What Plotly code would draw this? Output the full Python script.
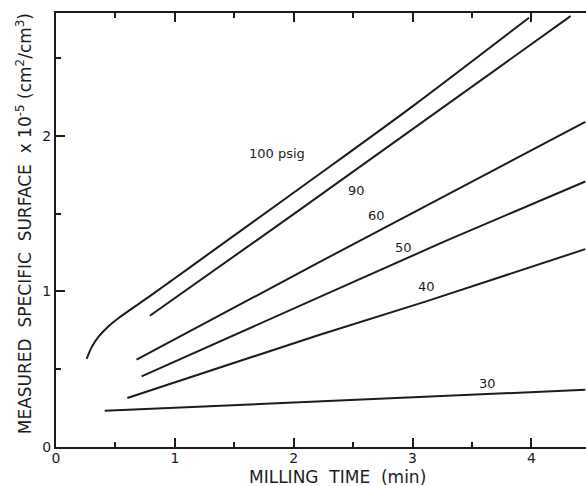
import plotly.graph_objects as go

# Milling time (min) and measured specific surface (x1e-5 cm^2/cm^3) per pressure curve
x_100 = [0.258, 0.30, 0.36, 0.44, 0.53, 0.62, 0.70, 0.79, 0.90, 1.0, 1.2, 1.6, 2.2, 3.0, 3.98]
y_100 = [0.566, 0.642, 0.711, 0.775, 0.831, 0.880, 0.922, 0.970, 1.030, 1.085, 1.195, 1.415, 1.745, 2.19, 2.76]
x_90 = [0.79, 2.05, 4.33]
y_90 = [0.844, 1.524, 2.77]
x_60 = [0.678, 2.22, 4.454]
y_60 = [0.561, 1.19, 2.09]
x_50 = [0.72, 2.05, 2.22, 3.28, 4.454]
y_50 = [0.454, 0.91, 0.965, 1.325, 1.707]
x_40 = [0.60, 2.05, 2.22, 3.115, 4.454]
y_40 = [0.315, 0.679, 0.722, 0.936, 1.272]
x_30 = [0.41, 2.05, 2.22, 4.454]
y_30 = [0.233, 0.287, 0.293, 0.368]

curve_labels = ["100 psig", "90", "60", "50", "40", "30"]
label_x = [1.86, 2.53, 2.70, 2.92, 3.12, 3.63]
label_y = [1.89, 1.65, 1.49, 1.28, 1.03, 0.41]

x_ticks = [0, 1, 2, 3, 4]
x_minor = [0.5, 1.5, 2.5, 3.5]
y_ticks = [0, 1, 2]
y_minor = [0.5, 1.5, 2.5]

INK = "#1c1c1c"
FONT = "DejaVu Sans"

fig = go.Figure()
series = [(x_100, y_100), (x_90, y_90), (x_60, y_60), (x_50, y_50), (x_40, y_40), (x_30, y_30)]
for i, (xs, ys) in enumerate(series):
    shape = dict(shape="spline", smoothing=0.8) if i == 0 else dict(shape="linear")
    fig.add_trace(go.Scatter(x=xs, y=ys, mode="lines",
                             line=dict(color=INK, width=2, **shape),
                             showlegend=False, hoverinfo="skip"))

for t, lx, ly in zip(curve_labels, label_x, label_y):
    fig.add_annotation(x=lx, y=ly, text=t, showarrow=False,
                       font=dict(family=FONT, size=13, color=INK))

fig.add_annotation(xref="paper", yref="paper", x=0.531, y=-0.068,
                   xanchor="center", yanchor="middle",
                   text="MILLING  TIME  (min)", showarrow=False,
                   font=dict(family=FONT, size=17, color=INK))
fig.add_annotation(xref="paper", yref="paper", x=-0.059, y=0.515,
                   xanchor="center", yanchor="middle", textangle=-90,
                   text="MEASURED  SPECIFIC  SURFACE  x 10<sup>-5</sup> (cm<sup>2</sup>/cm<sup>3</sup>)",
                   showarrow=False, font=dict(family=FONT, size=17, color=INK))

fig.update_layout(
    width=586, height=486,
    margin=dict(l=56, r=0, t=13, b=39),
    paper_bgcolor="white", plot_bgcolor="white",
    xaxis=dict(range=[0, 4.46], tickvals=x_ticks, ticktext=[str(v) for v in x_ticks],
               ticks="inside", ticklen=9, tickwidth=1.5, tickcolor=INK,
               showline=True, linewidth=2, linecolor=INK, mirror="ticks",
               showgrid=False, zeroline=False, ticklabelstandoff=-3,
               tickfont=dict(family=FONT, size=14, color=INK),
               minor=dict(tickvals=x_minor, ticks="inside", ticklen=5, tickwidth=1.5, tickcolor=INK, showgrid=False)),
    yaxis=dict(range=[0, 2.79], tickvals=y_ticks, ticktext=[str(v) for v in y_ticks],
               ticks="inside", ticklen=9, tickwidth=1.5, tickcolor=INK,
               showline=True, linewidth=2, linecolor=INK, mirror=False,
               showgrid=False, zeroline=False,
               tickfont=dict(family=FONT, size=14, color=INK),
               minor=dict(tickvals=y_minor, ticks="inside", ticklen=5, tickwidth=1.5, tickcolor=INK, showgrid=False)),
    yaxis2=dict(range=[0, 2.79], overlaying="y", side="right", tickvals=y_ticks,
                ticks="inside", ticklen=9, tickwidth=1.5, tickcolor=INK,
                showline=False, showticklabels=False, showgrid=False, zeroline=False,
                minor=dict(tickvals=y_minor, ticks="inside", ticklen=5, tickwidth=1.5, tickcolor=INK, showgrid=False)),
)

fig.write_html("out.html")
